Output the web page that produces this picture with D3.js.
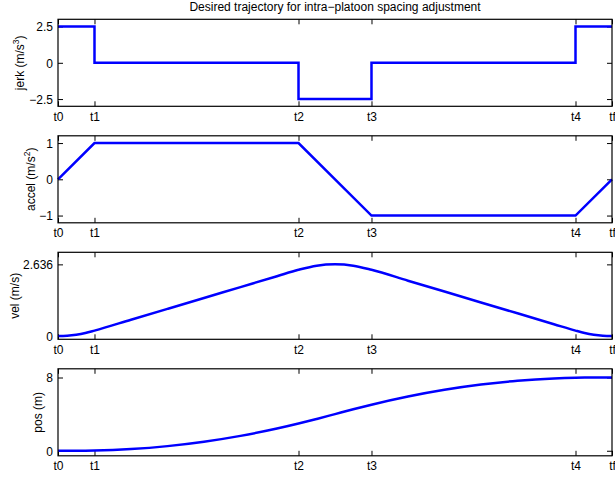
<!DOCTYPE html>
<html>
<head>
<meta charset="utf-8">
<script src="https://cdn.jsdelivr.net/npm/d3@7/dist/d3.min.js"></script>
<style>
  html, body { margin: 0; padding: 0; background: #fff; }
  svg { display: block; font-family: "Liberation Sans", Arial, Helvetica, sans-serif; }
</style>
</head>
<body>
<svg id="chart" width="615" height="477"></svg>
<script>
// ---- data ----
const titleText = "Desired trajectory for intra\u2212platoon spacing adjustment";
const timeLabels = ["t0", "t1", "t2", "t3", "t4", "tf"];
const knotTimes = [0, 0.4, 2.636, 3.436, 5.672, 6.072];

// jerk (step, value holds from each knot to the next)
const jerkValues = [2.5, 0, -2.5, 0, 2.5, 2.5];
// acceleration at knots (piecewise linear)
const accelValues = [0, 1, 1, -1, -1, 0];

// velocity and position samples
const sampleTimes = [0, 0.1, 0.2, 0.3, 0.4, 0.8, 1.2, 1.6, 2.0, 2.4, 2.636, 2.836, 3.036, 3.236, 3.436,
  3.836, 4.236, 4.636, 5.036, 5.436, 5.672, 5.772, 5.872, 5.972, 6.072];
const velValues = [0, 0.0125, 0.05, 0.1125, 0.2, 0.6, 1.0, 1.4, 1.8, 2.2, 2.436, 2.586, 2.636, 2.586, 2.436,
  2.036, 1.636, 1.236, 0.836, 0.436, 0.2, 0.1125, 0.05, 0.0125, 0];
const posValues = [0, 0.0004, 0.0033, 0.0113, 0.0267, 0.1867, 0.5067, 0.9867, 1.6267, 2.4267, 2.9737, 3.4776,
  4.0014, 4.5253, 5.0292, 5.9236, 6.6580, 7.2324, 7.6468, 7.9012, 7.9762, 7.9916, 7.9996, 8.0025, 8.0029];

const panels = [
  { label: ["jerk (m/s", "3", ")"], yDomain: [-3, 3], yTicks: [-2.5, 0, 2.5], yTickLabels: ["\u22122.5", "0", "2.5"],
    times: knotTimes, values: jerkValues, curve: "step", labelX: 24 },
  { label: ["accel (m/s", "2", ")"], yDomain: [-1.2, 1.2], yTicks: [-1, 0, 1], yTickLabels: ["\u22121", "0", "1"],
    times: knotTimes, values: accelValues, curve: "linear", labelX: 35 },
  { label: ["vel (m/s)"], yDomain: [-0.12, 3.08], yTicks: [0, 2.636], yTickLabels: ["0", "2.636"],
    times: sampleTimes, values: velValues, curve: "smooth", labelX: 19 },
  { label: ["pos (m)"], yDomain: [-0.55, 8.95], yTicks: [0, 8], yTickLabels: ["0", "8"],
    times: sampleTimes, values: posValues, curve: "smooth", labelX: 42 }
];

// ---- layout ----
const svg = d3.select("#chart");
const left = 58, right = 612;
const tops = [19.3, 135.8, 252.3, 368.8];
const h = 87;
const fs = 12;

const x = d3.scaleLinear().domain([knotTimes[0], knotTimes[knotTimes.length - 1]]).range([left, right]);

svg.append("text")
  .attr("x", (left + right) / 2).attr("y", 10.5)
  .attr("text-anchor", "middle").attr("font-size", fs)
  .text(titleText);

panels.forEach((p, k) => {
  const top = tops[k], bottom = top + h;
  const y = d3.scaleLinear().domain(p.yDomain).range([bottom, top]);
  const g = svg.append("g");

  // axes
  const bx = g.append("g").attr("transform", `translate(0,${bottom})`)
    .call(d3.axisBottom(x).tickValues(knotTimes).tickFormat((d, i) => timeLabels[i])
      .tickSize(-5).tickSizeOuter(0).tickPadding(6));
  const tx = g.append("g").attr("transform", `translate(0,${top})`)
    .call(d3.axisTop(x).tickValues(knotTimes).tickFormat("").tickSize(-5).tickSizeOuter(0));
  const ly = g.append("g").attr("transform", `translate(${left},0)`)
    .call(d3.axisLeft(y).tickValues(p.yTicks).tickFormat((d, i) => p.yTickLabels[i])
      .tickSize(-5).tickSizeOuter(0).tickPadding(5));
  const ry = g.append("g").attr("transform", `translate(${right},0)`)
    .call(d3.axisRight(y).tickValues(p.yTicks).tickFormat("").tickSize(-5).tickSizeOuter(0));
  [bx, tx, ly, ry].forEach(a => {
    a.select(".domain").remove();
    a.selectAll("line").attr("stroke", "#000").attr("stroke-width", 1);
    a.selectAll("text").attr("font-size", fs).attr("fill", "#000")
      .attr("font-family", "'Liberation Sans', Arial, sans-serif");
  });
  ly.selectAll("text").attr("dy", "0.36em");

  // data line
  const line = d3.line()
    .x((d, i) => x(p.times[i]))
    .y(d => y(d))
    .curve(p.curve === "step" ? d3.curveStepAfter : (p.curve === "smooth" ? d3.curveMonotoneX : d3.curveLinear));
  g.append("path")
    .datum(p.values)
    .attr("d", line)
    .attr("fill", "none")
    .attr("stroke", "#0000ff")
    .attr("stroke-width", 2.5)
    .attr("stroke-linejoin", "miter");

  // box
  g.append("rect")
    .attr("x", left).attr("y", top).attr("width", right - left).attr("height", h)
    .attr("fill", "none").attr("stroke", "#000").attr("stroke-width", 1.2);

  // y label
  const t = g.append("text")
    .attr("transform", `translate(${p.labelX},${(top + bottom) / 2}) rotate(-90)`)
    .attr("text-anchor", "middle").attr("font-size", fs);
  t.append("tspan").text(p.label[0]);
  if (p.label.length > 1) {
    t.append("tspan").attr("dy", -5).attr("font-size", 8.5).text(p.label[1]);
    t.append("tspan").attr("dy", 5).text(p.label[2]);
  }
});
</script>
</body>
</html>
